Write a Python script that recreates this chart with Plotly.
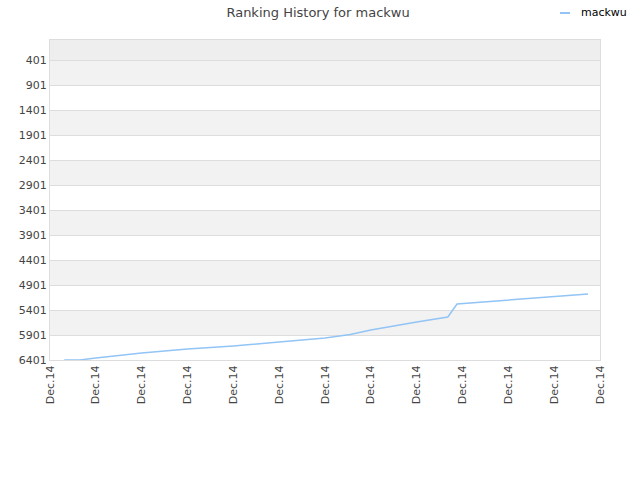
import plotly.graph_objects as go

# data
x_pos = [0.31, 0.65, 1.0, 2.0, 3.0, 4.0, 5.0, 6.0, 6.55, 7.0, 8.0, 8.68, 8.88, 10.0, 11.0, 11.74]
rank = [6401, 6401, 6361, 6261, 6181, 6121, 6041, 5961, 5891, 5801, 5641, 5541, 5281, 5201, 5141, 5081]
x_ticks = list(range(13))
x_labels = ["Dec.14"] * 13
y_ticks = [401, 901, 1401, 1901, 2401, 2901, 3401, 3901, 4401, 4901, 5401, 5901, 6401]
y_top = 1
series_name = "mackwu"

font = "DejaVu Sans, Verdana, sans-serif"
line_color = "#92c4f5"

fig = go.Figure()
fig.add_trace(go.Scatter(x=x_pos, y=rank, mode="lines", name=series_name,
                         line=dict(color=line_color, width=1.5), showlegend=False))

shapes = [dict(type="rect", xref="paper", yref="y", x0=0, x1=1, y0=y_top, y1=y_ticks[0],
               fillcolor="#eeeeee", line_width=0, layer="below")]
for i in range(0, len(y_ticks) - 1, 2):
    shapes.append(dict(type="rect", xref="paper", yref="y", x0=0, x1=1,
                       y0=y_ticks[i], y1=y_ticks[i + 1],
                       fillcolor="#f2f2f2", line_width=0, layer="below"))
# legend sample line
shapes.append(dict(type="line", xref="paper", yref="paper", x0=0.9273, x1=0.9455,
                   y0=1.0844, y1=1.0844, line=dict(color=line_color, width=2)))

fig.update_layout(
    width=640, height=480,
    margin=dict(l=50, r=40, t=40, b=120, autoexpand=False),
    paper_bgcolor="white", plot_bgcolor="white",
    shapes=shapes,
    annotations=[dict(text=series_name, xref="paper", yref="paper", x=0.9618, y=1.0844,
                      xanchor="left", yanchor="middle", showarrow=False,
                      font=dict(family=font, size=11, color="#000000"))],
    title=dict(text="Ranking History for mackwu", x=0.497, xanchor="center", y=0.975, yanchor="middle",
               font=dict(family=font, size=13, color="#444444")),
    showlegend=False,
    xaxis=dict(range=[0, 12], tickvals=x_ticks, ticktext=x_labels, tickangle=-90,
               showgrid=False, zeroline=False, showline=True, linecolor="#dddddd", mirror=True,
               ticks="", tickfont=dict(family=font, size=11, color="#444444")),
    yaxis=dict(range=[6401, y_top], tickvals=y_ticks, showgrid=True, gridcolor="#dddddd",
               zeroline=False, showline=True, linecolor="#dddddd", mirror=True,
               ticks="", tickfont=dict(family=font, size=11, color="#444444")),
)
fig.write_html("out.html")
